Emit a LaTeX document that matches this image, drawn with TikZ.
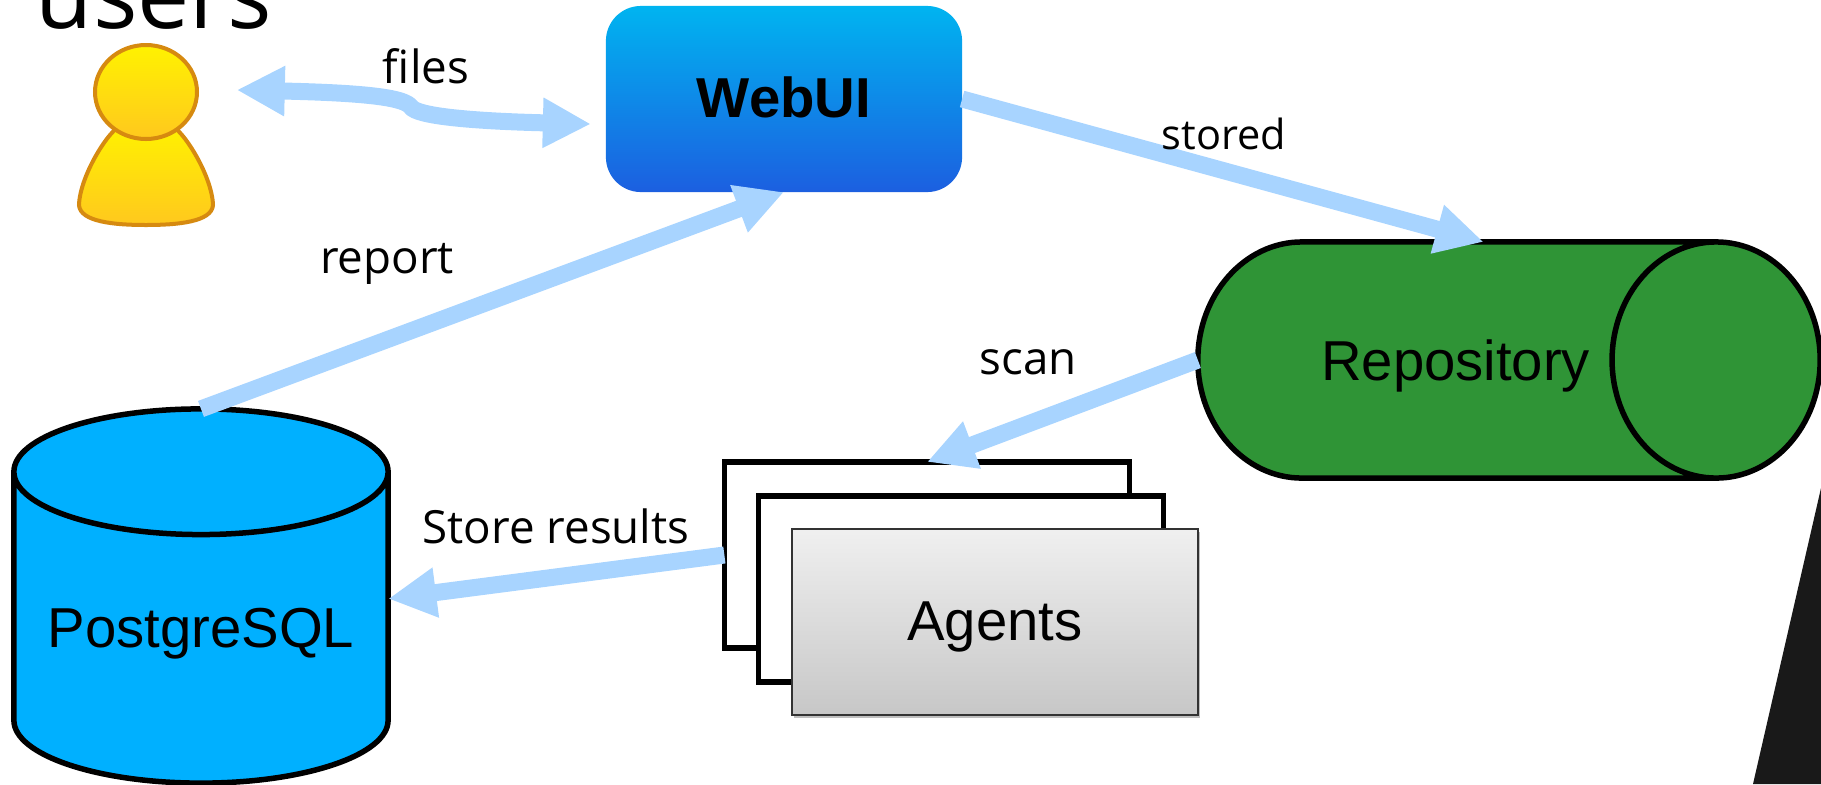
\documentclass[tikz,border=0pt]{standalone}
\usepackage{fontspec}
\setmainfont{Liberation Sans}
\newfontfamily\labelfont{Open Sans}
\usetikzlibrary{shapes.geometric,arrows.meta,shadows}
\definecolor{arrowblue}{HTML}{A8D4FF}
\definecolor{dbblue}{HTML}{00B0FF}
\definecolor{repogreen}{HTML}{2F9436}
\definecolor{webtop}{HTML}{00B4F0}
\definecolor{webbottom}{HTML}{1C5FE0}
\definecolor{persontop}{HTML}{FFF200}
\definecolor{personbottom}{HTML}{FFC81E}
\definecolor{personline}{HTML}{D68A10}
\tikzset{one/.style={draw,line width=.055cm,fill=white,inner sep=0pt,outer sep=0pt},
two/.style={cylinder,draw,line width=.055cm,inner sep=0pt,outer sep=0pt,font=\fontsize{16}{18}\selectfont},
tag/.style={font=\labelfont\fontsize{13}{15}\selectfont,inner sep=0pt},
skin/.style={top color=persontop,bottom color=personbottom,draw=personline,line width=.04cm},
arrow/.style={-{Triangle[length=.48cm,width=.47cm]},line width=.17cm,arrowblue}}

\begin{document}
\begin{tikzpicture}[x=.01cm,y=-.01cm]
\path[use as bounding box,clip] (0,0) rectangle (1821,784);

\fill[black!90] (1821,488) -- (1753,784) -- (1821,784) -- cycle;

\node[font=\labelfont\fontsize{26.5}{28}\selectfont,anchor=base,inner sep=0pt] (users) at (154,28) {users};

% person icon
\node[minimum width=1.4cm,minimum height=1.8cm,inner sep=0pt] (person) at (146,135) {};
\shade[skin]
  (122,125) .. controls (110,128) and (80,175) .. (79,205) .. controls (80,222) and (115,225) .. (146,225)
  .. controls (177,225) and (212,222) .. (213,205) .. controls (212,175) and (182,128) .. (170,125) -- cycle;
\shade[skin] (146,92) ellipse [x radius=51,y radius=47];

\node[rounded corners=.35cm,top color=webtop,bottom color=webbottom,draw=none,minimum width=3.56cm,minimum height=1.86cm,inner sep=0pt,outer sep=0pt,text height=.36cm,text depth=0pt,font=\bfseries\fontsize{16}{18}\selectfont] (webui) at (784,99) {WebUI};

\node[two,fill=repogreen,anchor=shape center,shape aspect=3.25,text height=.52cm,text depth=.12cm,minimum height=6.22cm,minimum width=2.36cm] (repo) at (1509,360) {Repository};
\node[two,fill=dbblue,anchor=shape center,shape border rotate=90,shape aspect=.41,text height=.5cm,text depth=.12cm,minimum height=3.74cm,minimum width=3.74cm] (db) at (201,596) {PostgreSQL};

\node[one,minimum width=4.05cm,minimum height=1.86cm] (agenta) at (927,555) {};
\node[one,minimum width=4.05cm,minimum height=1.86cm] (agentb) at (961,589) {};
\node[draw=black!80,line width=.02cm,top color=black!6,bottom color=black!22,drop shadow={shadow xshift=.02cm,shadow yshift=-.03cm,opacity=.5},minimum width=4.06cm,minimum height=1.86cm,inner sep=0pt,outer sep=0pt,text height=.48cm,text depth=.12cm,font=\fontsize{16}{18}\selectfont] (agentc) at (995,622) {Agents};

\draw[arrow,{Triangle[length=.48cm,width=.47cm]}-{Triangle[length=.48cm,width=.47cm]}] ([shift={(.20cm,.45cm)}]person.east) .. controls (370,93) and (405,98) .. (411,107) .. controls (417,116) and (470,121) .. ([shift={(-.15cm,-.25cm)}]webui.west);
\draw[arrow] (webui.east) -- ([shift={(.28cm,0cm)}]repo.north);
\draw[arrow] (db.north) -- (webui.south);
\draw[arrow] (repo.west) -- (agenta.north);
\draw[arrow] (agenta.west) -- ([yshift=.3cm]db.east);

\node[tag] (files) at (426,66) {files};
\node[tag,font=\labelfont\fontsize{11.8}{15}\selectfont] (stored) at (1224,134) {stored};
\node[tag] (report) at (387,264) {report};
\node[tag] (scan) at (1028,362) {scan};
\node[tag] (store) at (556,526) {Store results};
\end{tikzpicture}
\end{document}
